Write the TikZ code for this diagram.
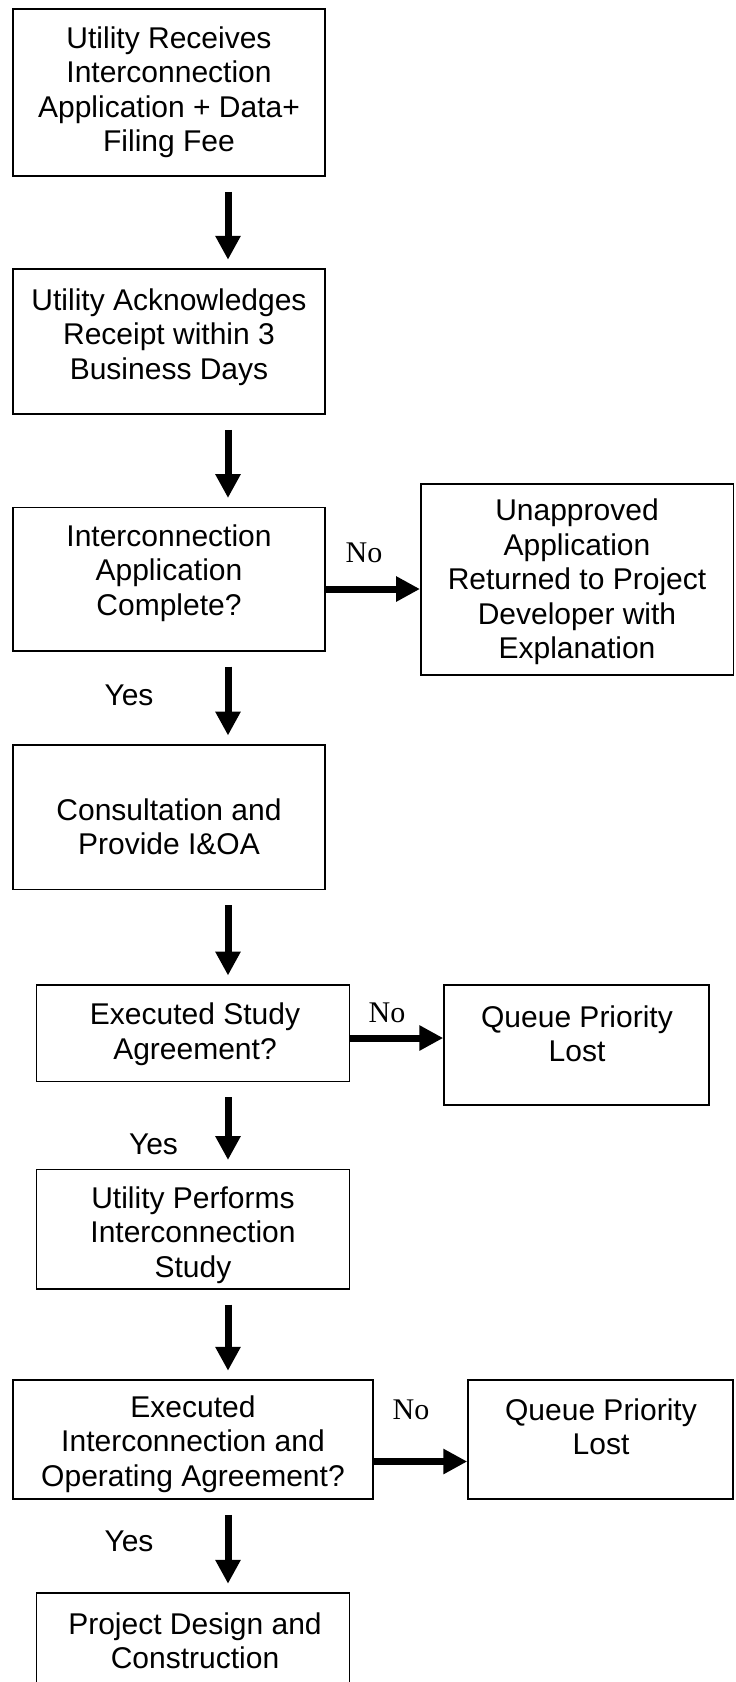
\documentclass[tikz,border=0pt]{standalone}
\usepackage{fontspec}
\setmainfont{Liberation Sans}
\newfontfamily\nofont{Liberation Serif}
\usetikzlibrary{arrows.meta}

\begin{document}
\begin{tikzpicture}[x=0.4pt, y=-0.4pt, font=\fontsize{12}{13.8}\selectfont,
  box/.style={draw=black, line width=0.6pt, inner sep=0pt},
  txt/.style={align=center, inner sep=0pt},
  flow/.style={line width=2.8pt, -{Triangle[length=9.6pt, width=9.6pt]}},
  down/.style={flow, shorten <=6pt, shorten >=3.4pt},
  answer/.style={inner sep=0pt},
  nolabel/.style={answer, font=\nofont\fontsize{12}{13.8}\selectfont}]
  \useasboundingbox (0,0) rectangle (735,1682);
  \clip (0,0) rectangle (735,1682);
  \coordinate (spine) at (228,0);

  % main column
  \node[box, minimum width=124.8pt, minimum height=66.8pt] (receive) at (169,92.5) {};
  \node[box, minimum width=124.8pt, minimum height=58pt] (ack) at (169,341.5) {};
  \node[box, minimum width=124.8pt, minimum height=57.4pt] (complete) at (169,579) {};
  \node[box, minimum width=124.8pt, minimum height=57.8pt] (consult) at (169,817) {};
  \node[box, minimum width=125pt, minimum height=38.6pt] (study) at (193,1033) {};
  \node[box, minimum width=125pt, minimum height=47.8pt] (perform) at (193,1229) {};
  \node[box, minimum width=144pt, minimum height=47.6pt] (ioa) at (193,1439.5) {};
  \node[box, minimum width=125pt, minimum height=58.8pt] (design) at (193,1666.5) {};

  % side boxes
  \node[box, minimum width=125pt, minimum height=76.4pt] (returned) at (577,579.5) {};
  \node[box, minimum width=106pt, minimum height=48pt] (lost1) at (576.5,1045) {};
  \node[box, minimum width=106pt, minimum height=47.6pt] (lost2) at (600.5,1439.5) {};

  % texts
  \node[txt] (receivet) at (169,92) {Utility Receives\\Interconnection\\Application + Data+\\Filing Fee};
  \node[txt] (ackt) at (169,337) {Utility Acknowledges\\Receipt within 3\\Business Days};
  \node[txt] (completet) at (169,573) {Interconnection\\Application\\Complete?};
  \node[txt] (consultt) at (169,827) {Consultation and\\Provide I\&OA};
  \node[txt] (studyt) at (195,1034) {Executed Study\\Agreement?};
  \node[txt] (performt) at (193,1235) {Utility Performs\\Interconnection\\Study};
  \node[txt] (ioat) at (193,1444) {Executed\\Interconnection and\\Operating Agreement?};
  \node[txt] (designt) at (195,1641) {Project Design and\\Construction};
  \node[txt] (returnedt) at (577,582) {Unapproved\\Application\\Returned to Project\\Developer with\\Explanation};
  \node[txt] (lost1t) at (577,1034) {Queue Priority\\Lost};
  \node[txt] (lost2t) at (601,1427) {Queue Priority\\Lost};

  % yes / no
  \node[nolabel] (no1) at (364,553) {No};
  \node[nolabel] (no2) at (387,1013) {No};
  \node[nolabel] (no3) at (411,1410) {No};
  \node[answer] (yes1) at (129,695) {Yes};
  \node[answer] (yes2) at (153.5,1144) {Yes};
  \node[answer] (yes3) at (129,1541) {Yes};

  % arrows
  \draw[down] (receive.south -| spine) -- (ack.north -| spine);
  \draw[down] (ack.south -| spine) -- (complete.north -| spine);
  \draw[down] (complete.south -| spine) -- (consult.north -| spine);
  \draw[down] (consult.south -| spine) -- (study.north -| spine);
  \draw[down] (study.south -| spine) -- (perform.north -| spine);
  \draw[down] (perform.south -| spine) -- (ioa.north -| spine);
  \draw[down] (ioa.south -| spine) -- (design.north -| spine);
  \draw[flow] ([yshift=-4pt]complete.east) -- ([yshift=-4pt]complete.east -| returned.west);
  \draw[flow] ([yshift=-2pt]study.east) -- ([yshift=-2pt]study.east -| lost1.west);
  \draw[flow] ([yshift=-8.8pt]ioa.east) -- ([yshift=-8.8pt]ioa.east -| lost2.west);
\end{tikzpicture}
\end{document}
